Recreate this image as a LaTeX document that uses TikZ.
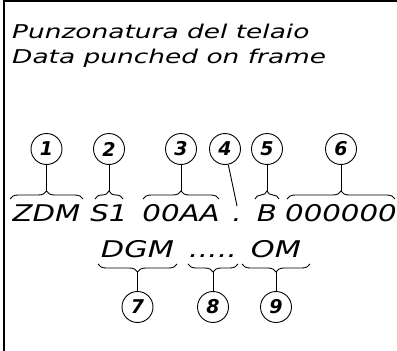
\documentclass[tikz,border=0pt]{standalone}
\usepackage{fontspec}
\setmainfont{DejaVu Sans}
\usepackage{graphicx}
\usetikzlibrary{calc,decorations.pathreplacing}
\newcommand{\wideText}[2]{\scalebox{#1}[1]{\itshape #2}}
\newcommand{\fiveDots}{.....}

\begin{document}
\begin{tikzpicture}[x=1pt,y=-1pt,%%
  lineStyle/.style={-,line width=0.9pt},%%
  frameStyle/.style={-,line width=1.5pt},%%
  braceStyle/.style={decorate,decoration={brace,amplitude=8pt},line width=0.9pt},%%
  mirrorStyle/.style={decorate,decoration={brace,mirror,amplitude=8pt},line width=0.9pt},%%
  numStyle/.style={draw,circle,line width=0.9pt,minimum size=31pt,inner sep=0pt,%%
    font=\fontsize{19}{19}\selectfont\bfseries\itshape},%%
  codeStyle/.style={anchor=base,inner sep=0pt,font=\fontsize{23}{23}\selectfont},%%
  titleStyle/.style={anchor=base west,inner sep=0pt,font=\fontsize{19}{22}\selectfont}
]
%%
%%
\pgfmathsetmacro{\yTopNum}{149}
\pgfmathsetmacro{\yTopBrace}{199}
\pgfmathsetmacro{\yCode}{221}
\pgfmathsetmacro{\yLow}{257}
\pgfmathsetmacro{\yLowBrace}{264}
\pgfmathsetmacro{\yLowNum}{307}
\useasboundingbox (0,0) rectangle (397,351);
%%
%% Frame: only the top and left edges.
\draw[frameStyle] (4,351) -- (4,1) -- (397,1);
%%
%% Title.
\node[titleStyle] (title1) at (12,38) {\wideText{1.39}{Punzonatura del telaio}};
\node[titleStyle] (title2) at (12,63) {\wideText{1.39}{Data punched on frame}};
%%
%% Upper row: groups with braces and numbers above.
\foreach \grp/\txt/\xl/\xr/\nr in {zdm/ZDM/10/83/1,sone/S1/95/123/2,%%
  aa/00AA/143/219/3,bb/B/255/279/5,zeros/000000/287/395/6}
{
  \node[codeStyle] (\grp) at ({(\xl+\xr)/2},\yCode) {\wideText{1.27}{\txt}};
  \draw[braceStyle] (\xl,\yTopBrace) -- (\xr,\yTopBrace);
  \coordinate (tip\nr) at ({(\xl+\xr)/2},{\yTopBrace-8});
  \node[numStyle] (num\nr) at ({(\xl+\xr)/2},\yTopNum) {\nr};
  \draw[lineStyle] (num\nr) -- (tip\nr);
}
%%
%% The dot, pointed at by number 4.
\node[codeStyle] (dot) at (237,\yCode) {\wideText{1.27}{.}};
\node[numStyle] (num4) at (225,\yTopNum) {4};
\coordinate (tip4) at (237,206);
\draw[lineStyle] (num4) -- (tip4);
%%
%% Lower row: groups with braces and numbers below.
\foreach \grp/\txt/\xl/\xr/\nr in {dgm/DGM/98/177/7,dots/\fiveDots/188/238/8,om/OM/242/310/9}
{
  \node[codeStyle] (\grp) at ({(\xl+\xr)/2},\yLow) {\wideText{1.32}{\txt}};
  \draw[mirrorStyle] (\xl,\yLowBrace) -- (\xr,\yLowBrace);
  \coordinate (tip\nr) at ({(\xl+\xr)/2},{\yLowBrace+8});
  \node[numStyle] (num\nr) at ({(\xl+\xr)/2},\yLowNum) {\nr};
  \draw[lineStyle] (num\nr) -- (tip\nr);
}

\end{tikzpicture}
\end{document}
